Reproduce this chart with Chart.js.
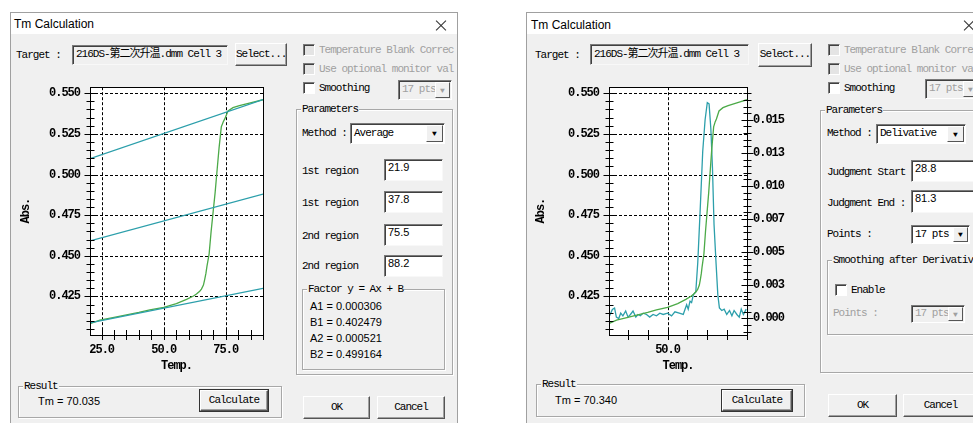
<!DOCTYPE html>
<html>
<head>
<meta charset="utf-8">
<script src="https://cdn.jsdelivr.net/npm/chart.js@4.4.1/dist/chart.umd.min.js"></script>
<style>
body { margin: 0; width: 973px; height: 423px; background: #fff; position: relative; overflow: hidden;
       font-family: "Liberation Mono", "Noto Sans CJK SC", monospace; font-size: 11px; letter-spacing: -1px; color: #000; }
.dlg { position: absolute; top: 12px; height: 420px; background: #f0f0f0; border: 1px solid #a0a0a0; box-sizing: border-box; }
.bar { position: absolute; left: 0; right: 0; top: 0; height: 21px; background: #fff; }
.ttl { position: absolute; font-family: "Liberation Sans", sans-serif; font-size: 12px; letter-spacing: 0; line-height: 14px; }
.x1, .x2 { position: absolute; width: 14px; height: 1px; background: #333; }
.x1 { transform: rotate(45deg); } .x2 { transform: rotate(-45deg); }
.a { position: absolute; white-space: nowrap; line-height: 14px; }
.g { color: #a0a0a0; }
.fld { position: absolute; box-sizing: border-box; background: #fff; border: 1px solid; border-color: #7a7a7a #f8f8f8 #f8f8f8 #7a7a7a;
       box-shadow: inset 1px 1px 0 #404040; white-space: nowrap; overflow: hidden; padding-left: 3px; }
.num { font-family: "Liberation Sans", sans-serif; letter-spacing: 0; font-size: 11px; }
.btn { position: absolute; box-sizing: border-box; background: #f0f0f0; border: 1px solid; border-color: #fff #555 #555 #fff;
       box-shadow: inset -1px -1px 0 #a0a0a0; text-align: center; white-space: nowrap; }
.def { outline: 1px solid #333; }
.grp { position: absolute; box-sizing: border-box; border: 1px solid #a8a8a8; box-shadow: 1px 1px 0 #fff, inset 1px 1px 0 #fff; }
.gl { position: absolute; background: #f0f0f0; padding: 0 1px; line-height: 14px; white-space: nowrap; }
.chk { position: absolute; width: 12px; height: 12px; box-sizing: border-box; background: #fff; border: 1px solid; border-color: #7a7a7a #fff #fff #7a7a7a;
       box-shadow: inset 1px 1px 0 #404040; }
.chk.off { background: #e4e4e4; }
.cmb { position: absolute; box-sizing: border-box; border: 1px solid; border-color: #7a7a7a #fff #fff #7a7a7a; box-shadow: inset 1px 1px 0 #404040;
       background: #fff; white-space: nowrap; overflow: hidden; padding-left: 3px; }
.cmb.off { background: #f0f0f0; color: #a0a0a0; }
.arr { position: absolute; right: 1px; top: 1px; bottom: 1px; width: 15px; background: #f0f0f0; border: 1px solid; border-color: #fff #555 #555 #fff;
       box-sizing: border-box; font-size: 8px; text-align: center; letter-spacing: 0; color: #000; }
.cmb.off .arr { color: #a0a0a0; }
canvas { position: absolute; }
</style>
</head>
<body>

<!-- left dialog -->
<div class="dlg" style="left:10px;width:448px"><div class="bar"></div></div>
<div class="ttl" style="left:14px;top:17px">Tm Calculation</div>
<div class="x1" style="left:434px;top:25px"></div><div class="x2" style="left:434px;top:25px"></div>
<div class="a" style="left:16px;top:48px">Target :</div>
<div class="fld" style="left:72px;top:45px;width:156px;height:20px;background:#f0f0f0;line-height:17px">216DS-第二次升温.dmm Cell 3</div>
<div class="btn" style="left:235px;top:43px;width:52px;height:23px;line-height:20px">Select...</div>
<div class="chk off" style="left:303px;top:44px"></div><div class="a g" style="left:319px;top:43px">Temperature Blank Correc</div>
<div class="chk off" style="left:303px;top:63px"></div><div class="a g" style="left:319px;top:62px">Use optional monitor val</div>
<div class="chk" style="left:303px;top:82px"></div><div class="a" style="left:319px;top:81px">Smoothing</div>
<div class="cmb off" style="left:398px;top:80px;width:54px;height:20px;line-height:17px">17 pts<div class="arr" style="line-height:15px">&#9660;</div></div>
<div class="grp" style="left:296px;top:109px;width:157px;height:266px"></div>
<div class="gl" style="left:301px;top:102px">Parameters</div>
<div class="a" style="left:302px;top:126px">Method :</div>
<div class="cmb" style="left:350px;top:123px;width:95px;height:21px;line-height:18px">Average<div class="arr" style="width:17px;line-height:16px">&#9660;</div></div>
<div class="a" style="left:302px;top:164px">1st region</div>
<div class="fld num" style="left:384px;top:159px;width:59px;height:22px;line-height:14px">21.9</div>
<div class="a" style="left:302px;top:196px">1st region</div>
<div class="fld num" style="left:384px;top:191px;width:59px;height:22px;line-height:14px">37.8</div>
<div class="a" style="left:302px;top:229px">2nd region</div>
<div class="fld num" style="left:384px;top:224px;width:59px;height:22px;line-height:14px">75.5</div>
<div class="a" style="left:302px;top:259px">2nd region</div>
<div class="fld num" style="left:384px;top:255px;width:59px;height:22px;line-height:14px">88.2</div>
<div class="grp" style="left:302px;top:289px;width:143px;height:81px"></div>
<div class="gl" style="left:307px;top:282px">Factor y = Ax + B</div>
<div class="a num" style="left:310px;top:299px">A1 = 0.000306</div>
<div class="a num" style="left:310px;top:315px">B1 = 0.402479</div>
<div class="a num" style="left:310px;top:331px">A2 = 0.000521</div>
<div class="a num" style="left:310px;top:347px">B2 = 0.499164</div>
<div class="grp" style="left:18px;top:386px;width:264px;height:32px"></div>
<div class="gl" style="left:23px;top:379px">Result</div>
<div class="a num" style="left:38px;top:394px">Tm = 70.035</div>
<div class="btn def" style="left:200px;top:390px;width:68px;height:21px;line-height:18px">Calculate</div>
<div class="btn" style="left:303px;top:396px;width:67px;height:23px;line-height:21px">OK</div>
<div class="btn" style="left:377px;top:396px;width:68px;height:23px;line-height:21px">Cancel</div>
<canvas id="leftChart" width="260" height="308" style="left:15px;top:70px"></canvas>

<!-- right dialog -->
<div class="dlg" style="left:526px;width:470px"><div class="bar"></div></div>
<div class="ttl" style="left:531px;top:18px">Tm Calculation</div>
<div class="x1" style="left:962px;top:25px"></div><div class="x2" style="left:962px;top:25px"></div>
<div class="a" style="left:535px;top:48px">Target :</div>
<div class="fld" style="left:590px;top:44px;width:159px;height:21px;background:#f0f0f0;line-height:18px">216DS-第二次升温.dmm Cell 3</div>
<div class="btn" style="left:758px;top:43px;width:54px;height:24px;line-height:21px">Select...</div>
<div class="chk off" style="left:828px;top:44px"></div><div class="a g" style="left:844px;top:43px">Temperature Blank Correc</div>
<div class="chk off" style="left:828px;top:63px"></div><div class="a g" style="left:844px;top:62px">Use optional monitor val</div>
<div class="chk" style="left:828px;top:82px"></div><div class="a" style="left:844px;top:81px">Smoothing</div>
<div class="cmb off" style="left:925px;top:79px;width:55px;height:20px;line-height:17px">17 pts<div class="arr" style="line-height:15px">&#9660;</div></div>
<div class="grp" style="left:820px;top:110px;width:165px;height:263px"></div>
<div class="gl" style="left:825px;top:103px">Parameters</div>
<div class="a" style="left:827px;top:126px">Method :</div>
<div class="cmb" style="left:876px;top:124px;width:90px;height:20px;line-height:17px">Delivative<div class="arr" style="width:17px;line-height:15px">&#9660;</div></div>
<div class="a" style="left:827px;top:165px">Judgment Start</div>
<div class="fld num" style="left:911px;top:160px;width:70px;height:22px;line-height:14px">28.8</div>
<div class="a" style="left:827px;top:196px">Judgment End :</div>
<div class="fld num" style="left:911px;top:190px;width:70px;height:23px;line-height:14px">81.3</div>
<div class="a" style="left:827px;top:227px">Points :</div>
<div class="cmb" style="left:911px;top:225px;width:59px;height:19px;line-height:16px">17 pts<div class="arr" style="line-height:14px">&#9660;</div></div>
<div class="grp" style="left:827px;top:260px;width:165px;height:75px"></div>
<div class="gl" style="left:832px;top:253px">Smoothing after Derivative</div>
<div class="chk" style="left:835px;top:284px"></div><div class="a" style="left:851px;top:283px">Enable</div>
<div class="a g" style="left:833px;top:306px">Points :</div>
<div class="cmb off" style="left:911px;top:305px;width:54px;height:18px;line-height:15px">17 pts<div class="arr" style="line-height:13px">&#9660;</div></div>
<div class="grp" style="left:536px;top:384px;width:269px;height:33px"></div>
<div class="gl" style="left:541px;top:377px">Result</div>
<div class="a num" style="left:555px;top:393px">Tm = 70.340</div>
<div class="btn def" style="left:722px;top:390px;width:70px;height:21px;line-height:18px">Calculate</div>
<div class="btn" style="left:828px;top:394px;width:69px;height:23px;line-height:21px">OK</div>
<div class="btn" style="left:903px;top:394px;width:75px;height:23px;line-height:21px">Cancel</div>
<canvas id="rightChart" width="270" height="308" style="left:530px;top:70px"></canvas>

<script>
// melting curve (Abs. vs Temp.), same sample in both windows
var meltTemp = [20.6, 24.3, 30.0, 35.0, 40.0, 44.4, 50.0, 55.1, 59.2, 62.0, 63.2, 64.5, 65.2, 66.0, 66.5, 67.0, 67.4, 68.3, 69.1, 69.9, 70.7, 71.5, 72.3, 73.2, 74.0, 74.6, 75.9, 77.9, 80.5, 83.3, 86.5, 90.0]
var meltAbs = [0.4084, 0.4104, 0.4121, 0.4137, 0.4152, 0.4167, 0.4183, 0.4206, 0.4232, 0.4253, 0.4265, 0.4282, 0.4295, 0.4320, 0.4354, 0.4392, 0.4434, 0.4512, 0.4650, 0.4769, 0.4887, 0.5026, 0.5164, 0.5293, 0.5325, 0.5342, 0.5391, 0.5411, 0.5424, 0.5435, 0.5447, 0.5460]

// baselines of the Average method (end points)
var baseTemp = [20.3, 90.0]
var upperBase = [0.5097, 0.5461]
var midBase = [0.4592, 0.4880]
var lowerBase = [0.4087, 0.4300]

// first derivative (right window)
var derivTemp = [20.8, 22.2, 23.3, 24.2, 25.4, 26.4, 27.5, 28.9, 30.1, 31.3, 32.6, 34.0, 35.1, 36.3, 37.7, 39.4, 41.0, 42.7, 44.4, 46.1, 47.8, 50.0, 52.0, 53.7, 55.9, 57.9, 58.8, 59.6, 60.4, 61.3, 62.1, 63.0, 64.2, 65.2, 66.3, 67.7, 68.9, 70.0, 70.9, 71.8, 72.6, 73.4, 74.4, 75.3, 76.1, 77.3, 78.5, 79.8, 81.2, 82.4, 83.5, 84.9, 86.1, 87.1, 88.2, 89.6]
var derivVal = [0.0002, 0.00068, 0.00079, 0.0001, 0.0, 0.0004, 0.0002, 0.00056, 0.0001, 0.0003, 0.00056, 0.0001, 0.0003, 0.0002, 0.0004, 0.0003, 0.0001, 0.0003, 0.0002, 0.0004, 0.0003, 0.0004, 0.0002, 0.0005, 0.0004, 0.0003, 0.0007, 0.00104, 0.0007, 0.0013, 0.0012, 0.0018, 0.0020, 0.0042, 0.0078, 0.0126, 0.0150, 0.0163, 0.0162, 0.0143, 0.0114, 0.0071, 0.0042, 0.0018, 0.0008, 0.0006, 0.0007, 0.0003, 0.0006, 0.0002, 0.0006, 0.0003, 0.0001, 0.0007, 0.0003, 0.0007]

// tick labels
var absTicks = [0.425, 0.450, 0.475, 0.500, 0.525, 0.550]
var tempTicksLeft = [25, 50, 75]
var tempTicksRight = [50]
var derivTicks = [0, 0.0025, 0.005, 0.0075, 0.01, 0.0125, 0.015]
var derivTickLabels = ['0.000', '0.003', '0.005', '0.007', '0.010', '0.013', '0.015']

var teal = '#2c9fab'
var green = '#4caa48'
var tickFont = { family: 'Liberation Mono', size: 12, weight: 'bold' }

function pts(xs, ys) {
    return xs.map(function (x, i) { return { x: x, y: ys[i] } })
}

function line(xs, ys, color, axis) {
    return { data: pts(xs, ys), borderColor: color, borderWidth: 1.3, pointRadius: 0, tension: 0, yAxisID: axis || 'y' }
}

function crisp(v) { return Math.round(v) + 0.5 }

// white plot, dashed grid at labelled values, frame, ticks crossing the axes
var framePlugin = {
    id: 'frame',
    beforeDraw: function (chart) {
        var a = chart.chartArea, ctx = chart.ctx
        ctx.save()
        ctx.fillStyle = '#fff'
        ctx.fillRect(a.left, a.top, a.right - a.left, a.bottom - a.top)
        ctx.restore()
    },
    beforeDatasetsDraw: function (chart, args, opts) {
        var a = chart.chartArea, ctx = chart.ctx
        ctx.save()
        ctx.strokeStyle = '#000'
        ctx.lineWidth = 1
        ctx.setLineDash([3, 2])
        ctx.beginPath()
        opts.xGrid.forEach(function (v) {
            var p = crisp(chart.scales.x.getPixelForValue(v))
            ctx.moveTo(p, a.top); ctx.lineTo(p, a.bottom)
        })
        opts.yGrid.forEach(function (v) {
            var p = crisp(chart.scales.y.getPixelForValue(v))
            ctx.moveTo(a.left, p); ctx.lineTo(a.right, p)
        })
        ctx.stroke()
        ctx.restore()
    },
    afterDatasetsDraw: function (chart, args, opts) {
        var a = chart.chartArea, ctx = chart.ctx
        ctx.save()
        ctx.strokeStyle = '#000'
        ctx.lineWidth = 1
        ctx.strokeRect(crisp(a.left), crisp(a.top), Math.round(a.right - a.left), Math.round(a.bottom - a.top))
        ctx.beginPath()
        opts.ticks.forEach(function (t) {
            var s = chart.scales[t.id]
            for (var i = Math.ceil(s.min / t.step - 1e-6); i * t.step <= s.max + 1e-9; i++) {
                var v = i * t.step
                var major = t.major.some(function (m) { return Math.abs(m - v) < t.step / 10 })
                var len = major ? t.big : t.small
                var p = crisp(s.getPixelForValue(v))
                if (t.id === 'x') {
                    ctx.moveTo(p, a.bottom - len); ctx.lineTo(p, a.bottom + len)
                } else {
                    var e = t.id === 'y1' ? crisp(a.right) : crisp(a.left)
                    ctx.moveTo(e - len, p); ctx.lineTo(e + len, p)
                }
            }
        })
        ctx.stroke()
        ctx.restore()
    }
}

function xScale(min, max, ticks) {
    return {
        type: 'linear', min: min, max: max,
        grid: { display: false, drawTicks: false }, border: { display: false },
        afterBuildTicks: function (s) { s.ticks = ticks.map(function (v) { return { value: v } }) },
        afterFit: function (s) { s.height = 43 },
        ticks: { font: tickFont, color: '#000', padding: 8, maxRotation: 0, autoSkip: false,
                 callback: function (v) { return v.toFixed(1) } },
        title: { display: true, text: 'Temp.', font: tickFont, color: '#000', padding: { top: 0, bottom: 5 } }
    }
}

function absScale(width) {
    return {
        min: 0.4013, max: 0.5537,
        grid: { display: false, drawTicks: false }, border: { display: false },
        afterBuildTicks: function (s) { s.ticks = absTicks.map(function (v) { return { value: v } }) },
        afterFit: function (s) { s.width = width },
        ticks: { font: tickFont, color: '#000', padding: 10, autoSkip: false,
                 callback: function (v) { return v.toFixed(3) } },
        title: { display: true, text: 'Abs.', font: tickFont, color: '#000', padding: { top: 4, bottom: 0 } }
    }
}

var baseOptions = {
    responsive: false, animation: false, devicePixelRatio: 1
}

/*----------------------------- Average window ----------------------------- */

var leftConfig = {
    type: 'line',
    data: {
        datasets: [
            line(baseTemp, upperBase, teal),
            line(baseTemp, midBase, teal),
            line(baseTemp, lowerBase, teal),
            line(meltTemp, meltAbs, green),
        ],
    },
    options: Object.assign({}, baseOptions, {
        layout: { padding: { left: 0, top: 7, right: 12, bottom: 0 } },
        plugins: {
            legend: { display: false }, tooltip: { enabled: false },
            frame: {
                xGrid: tempTicksLeft, yGrid: absTicks,
                ticks: [
                    { id: 'x', step: 5, major: tempTicksLeft, big: 5, small: 5 },
                    { id: 'y', step: 0.005, major: absTicks, big: 6, small: 4 },
                ],
            },
        },
        scales: { x: xScale(20.3, 90, tempTicksLeft), y: absScale(75) },
    }),
    plugins: [framePlugin],
}
var leftChart = new Chart(document.getElementById('leftChart'), leftConfig)

/*----------------------------- Derivative window ----------------------------- */

var derivScale = {
    position: 'right', min: -0.00125, max: 0.01746,
    grid: { display: false, drawTicks: false }, border: { display: false },
    afterBuildTicks: function (s) { s.ticks = derivTicks.map(function (v) { return { value: v } }) },
    afterFit: function (s) { s.width = 53 },
    ticks: { font: tickFont, color: '#000', padding: 6, autoSkip: false,
             callback: function (v, i) { return derivTickLabels[i] } },
}

var rightConfig = {
    type: 'line',
    data: {
        datasets: [
            line(meltTemp, meltAbs, green),
            line(derivTemp, derivVal, teal, 'y1'),
        ],
    },
    options: Object.assign({}, baseOptions, {
        layout: { padding: { left: 0, top: 6, right: 0, bottom: 0 } },
        plugins: {
            legend: { display: false }, tooltip: { enabled: false },
            frame: {
                xGrid: tempTicksRight, yGrid: absTicks,
                ticks: [
                    { id: 'x', step: 10, major: tempTicksRight, big: 5, small: 5 },
                    { id: 'y', step: 0.005, major: absTicks, big: 6, small: 4 },
                    { id: 'y1', step: 0.0005, major: derivTicks, big: 6, small: 4 },
                ],
            },
        },
        scales: { x: xScale(20.5, 90, tempTicksRight), y: absScale(79), y1: derivScale },
    }),
    plugins: [framePlugin],
}
var rightChart = new Chart(document.getElementById('rightChart'), rightConfig)
</script>
</body>
</html>
